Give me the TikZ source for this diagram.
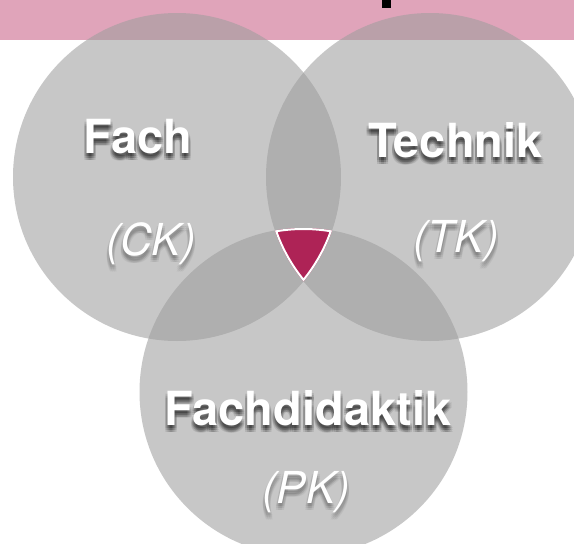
\documentclass[tikz,border=0pt]{standalone}
\usepackage{fontspec}
\setsansfont{TeX Gyre Heros}
\usetikzlibrary{calc}
\definecolor{band}{HTML}{E0A4BA}
\definecolor{circ}{gray}{0.616}
\definecolor{tri}{HTML}{AE2356}
\tikzset{
  bubble/.style={fill=circ, fill opacity=0.564},
  headlab/.style={font=\sffamily\bfseries\fontsize{47}{50}\selectfont, text=white, anchor=base, inner sep=0pt},
  sublab/.style={font=\sffamily\itshape\fontsize{44}{47}\selectfont, text=white, anchor=base, inner sep=0pt},
  shade/.style={text=black, opacity=#1},
}
\newcommand\shadowlab[6]{% style, x, y, text, name, shadow opacity
  \foreach \dx in {-2,0,2} \foreach \dy in {3,5,7} \node[#1,shade=#6] at (#2+\dx,#3+\dy) {#4};
  \node[#1] (#5) at (#2,#3) {#4};}
\begin{document}
\begin{tikzpicture}[x=1pt,y=-1pt]
\useasboundingbox (0,0) rectangle (574,544);
\fill[white] (0,0) rectangle (574,544);
\fill[band] (0,0) rectangle (574,40);
\fill[black] (382,0) rectangle (391,8);
\coordinate (L) at (177,177);
\coordinate (R) at (430,177);
\coordinate (B) at (303.5,392);
\fill[bubble] (L) circle[radius=164pt];
\fill[bubble] (R) circle[radius=164pt];
\fill[bubble] (B) circle[radius=164pt];
\begin{scope}
  \clip (L) circle[radius=164pt];
  \clip (R) circle[radius=164pt];
  \clip (B) circle[radius=164pt];
  \fill[tri] (0,0) rectangle (574,544);
  \draw[white, line width=4] (L) circle[radius=164pt] (R) circle[radius=164pt] (B) circle[radius=164pt];
\end{scope}
\shadowlab{headlab}{137.5}{153}{Fach}{fach}{0.1}
\shadowlab{headlab}{455.5}{157}{Technik}{technik}{0.1}
\shadowlab{headlab}{308}{425}{Fachdidaktik}{fachdid}{0.1}
\shadowlab{sublab}{151}{255}{(CK)}{ck}{0.05}
\shadowlab{sublab}{456}{252}{(TK)}{tk}{0.05}
\shadowlab{sublab}{306}{503}{(PK)}{pk}{0.05}
\end{tikzpicture}
\end{document}
